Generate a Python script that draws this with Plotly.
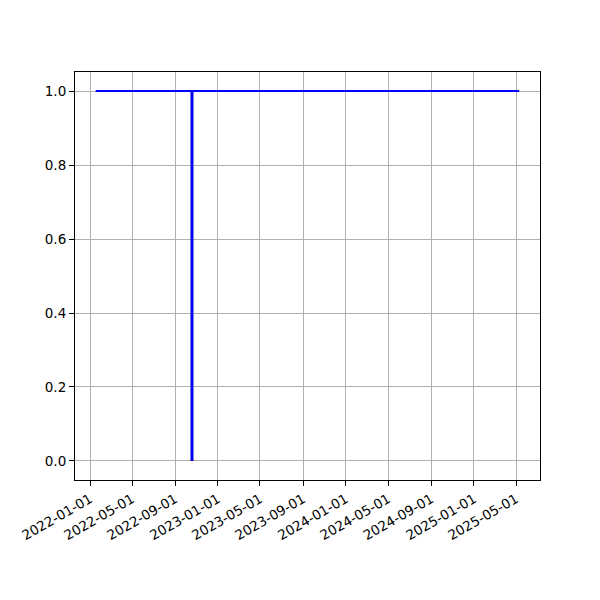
import plotly.graph_objects as go

# Data
h_dates = ["2022-01-17", "2025-05-10"]
h_values = [1.0, 1.0]
v_dates = ["2022-10-19", "2022-10-19"]
v_values = [0.0, 1.0]

tick_dates = ["2022-01-01", "2022-05-01", "2022-09-01", "2023-01-01", "2023-05-01",
              "2023-09-01", "2024-01-01", "2024-05-01", "2024-09-01", "2025-01-01",
              "2025-05-01"]
y_ticks = [0.0, 0.2, 0.4, 0.6, 0.8, 1.0]

fig = go.Figure()
fig.add_trace(go.Scatter(x=h_dates, y=h_values, mode="lines",
                         line=dict(color="#0000ff", width=2), showlegend=False))
fig.add_trace(go.Scatter(x=v_dates, y=v_values, mode="lines",
                         line=dict(color="#0000e6", width=3), showlegend=False))

font = dict(family="DejaVu Sans", size=13.5, color="black")
fig.update_layout(
    width=600, height=600,
    margin=dict(l=67, r=68, t=64, b=128),
    paper_bgcolor="white", plot_bgcolor="white",
    font=font,
    xaxis=dict(type="date", range=["2021-11-19", "2025-07-08 12:00"],
               tickvals=tick_dates, ticktext=tick_dates, tickangle=-30,
               showgrid=True, gridcolor="#b0b0b0", gridwidth=1.1,
               showline=True, linecolor="black", linewidth=1.1, mirror=True,
               ticks="outside", ticklen=5, tickwidth=1.1, tickcolor="black",
               zeroline=False, tickfont=font, automargin=False),
    yaxis=dict(range=[-0.0514, 1.0514], tickvals=y_ticks,
               ticktext=[f"{v:.1f}" for v in y_ticks],
               showgrid=True, gridcolor="#b0b0b0", gridwidth=1.1,
               showline=True, linecolor="black", linewidth=1.1, mirror=True,
               ticks="outside", ticklen=5, tickwidth=1.1, tickcolor="black",
               zeroline=False, tickfont=font, automargin=False),
)
fig.write_html("out.html")
